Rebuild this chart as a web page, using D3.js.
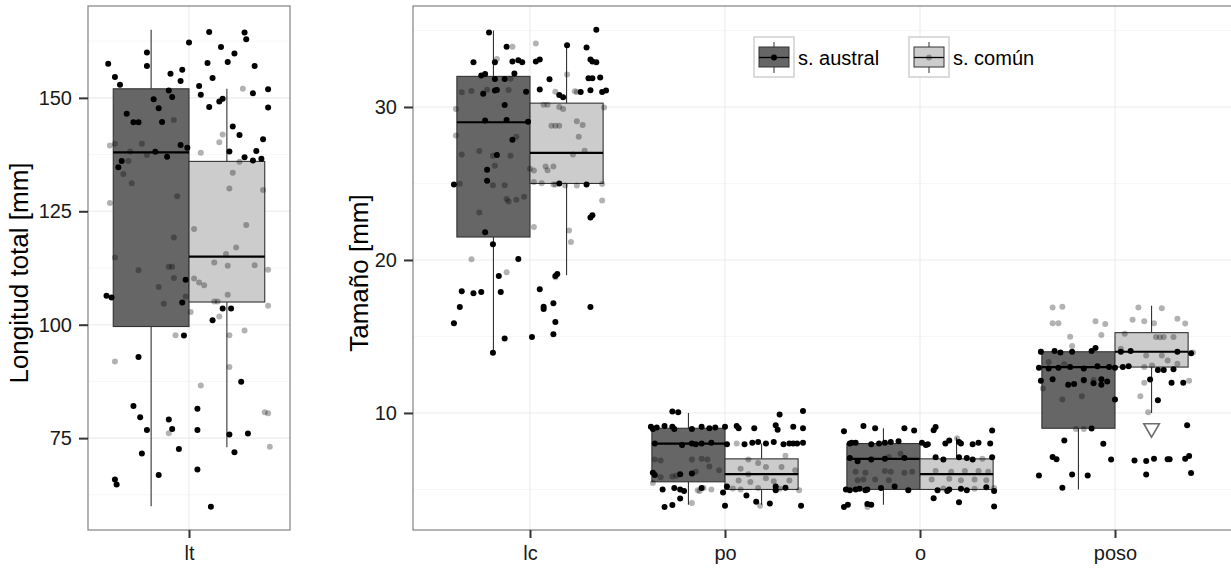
<!DOCTYPE html>
<html><head><meta charset="utf-8">
<script src="https://cdn.jsdelivr.net/npm/d3@7/dist/d3.min.js"></script>
<style>
body{margin:0;background:#fff}
text{font-family:"Liberation Sans",Arial,Helvetica,sans-serif}
</style>
</head><body>
<svg id="chart" width="1231" height="570"></svg>
<script>
// ---------------- data ----------------
const groups = ["s. austral", "s. común"];
const catsLeft = ["lt"];
const catsRight = ["lc", "po", "o", "poso"];
const ticksLeft = [75, 100, 125, 150];
const minorLeft = [62.5, 87.5, 112.5, 137.5, 162.5];
const ticksRight = [10, 20, 30];
const minorRight = [5, 15, 25, 35];
const yTitleLeft = "Longitud total [mm]";
const yTitleRight = "Tamaño [mm]";

// box statistics: [lower whisker, Q1, median, Q3, upper whisker]
const statsAustral = {lt: [60, 99.6, 138, 152, 165], lc: [14, 21.5, 29, 32, 35], po: [4, 5.5, 8, 9, 10], o: [4, 5, 7, 8, 9], poso: [5, 9, 13, 14, 14]};
const statsComun   = {lt: [73, 105, 115, 136, 152], lc: [19, 25, 27, 30.25, 34], po: [4, 5, 6, 7, 8], o: [5, 5, 6, 7, 8.4], poso: [10, 13, 14, 15.25, 17]};
const outliersComun = {poso: [9]};

// jittered observations: [jitter offset (category units), value]
const ltAustralPts = [[-0.48,157.5],[-0.44,154.6],[-0.41,152.9],[-0.25,160],[-0.25,157],[0.00,162.2],[-0.11,155.3],[-0.04,156.2],[-0.05,153.7],[-0.12,151.6],[-0.10,150.2],[-0.21,149.7],[-0.18,147.7],[-0.37,146.5],[-0.33,144.6],[-0.30,144.6],[-0.16,144.7],[-0.05,139.6],[-0.01,139],[-0.20,138.1],[-0.13,137],[-0.40,136.1],[-0.42,134.7],
[0.12,164.5],[0.33,164.4],[0.34,162.9],[0.19,161.2],[0.27,159.8],[0.23,157.9],[0.11,157.7],[0.39,157],[0.14,154.4],[0.06,152.6],[0.07,150.7],[0.47,151.9],[0.38,151],[0.47,147.9],[0.20,149.8],[0.18,149.2],[0.12,148],[0.26,143.7],[0.30,141.8],[0.44,140.9],[0.24,138.2],[0.40,138.3],[0.33,136.9],[0.38,136.2],[0.43,136.6],
[-0.02,109.9],[-0.49,106.4],[-0.46,106],[-0.04,104.9],[-0.03,97.6],[0.14,101],[0.20,103.6],[0.25,103.6],[-0.30,92.9],[0.31,87.4],[-0.33,82.1],[-0.29,79.6],[0.05,81.5],[-0.12,79.1],[-0.10,77],[-0.25,76.8],[0.05,76.8],[0.24,75.8],[0.35,76],[-0.28,71.6],[-0.06,72.6],[0.27,71.9],[0.05,68.1],[-0.18,66.9],[-0.44,65.9],[-0.43,64.8],[0.13,59.9]];
const ltComunPts = [[-0.47,139.5],[-0.44,139.9],[-0.28,139.9],[-0.25,137.4],[-0.35,138.2],[-0.36,136.1],[-0.39,133.2],[-0.34,131.2],[-0.09,145.1],[-0.07,128.3],[-0.47,126.8],[-0.44,114.8],[-0.30,112],[-0.09,119.2],[-0.12,112.8],[-0.10,112.8],[-0.09,110.3],[-0.18,108.3],[0.32,152],[0.20,141.9],[0.18,140.2],[0.07,137.9],[0.30,135.9],[0.26,133.5],[0.24,130],[0.44,129.7],[0.34,122],[0.03,121.1],[0.28,117],[0.22,115.6],[0.15,113.7],[0.23,113],[0.39,113.1],[0.47,112.1],[0.03,110.2],[0.06,109.3],[0.09,108.7],[0.23,106.6],[-0.02,106.2],[0.15,105.1],[0.17,105.1],[0.01,102.8],[0.18,101.8],[0.47,104.2],[-0.08,97.7],[0.24,97.7],[0.33,98.7],[-0.44,91.9],[0.24,90.7],[0.07,86.6],[0.45,80.7],[0.47,80.5],[-0.12,76.1],[0.48,73.1],[-0.15,104.6]];

const lcAustralPts = [[-0.21,34.87],[-0.12,33.93],[-0.29,32.92],[-0.18,32.92],[-0.09,32.97],[-0.06,33.05],[-0.04,32.92],[-0.25,32.05],[-0.23,32.16],[-0.18,31.83],[-0.13,31.83],[-0.08,32.18],[-0.24,30.87],[-0.18,31.07],[-0.17,31.11],[-0.02,31],[-0.13,30.13],[-0.23,29.12],[-0.12,29.15],[-0.01,29.04],[-0.09,27.86],[-0.17,26.86],[-0.22,25.89],[-0.22,25.17],[-0.39,24.93],[-0.23,21.81],[-0.19,21.03],[-0.06,20.07],[-0.16,18.95],[-0.35,17.95],[-0.29,17.82],[-0.25,17.9],[-0.15,17.9],[-0.36,16.92],[-0.39,15.87],[-0.13,14.87],[0.01,14.96],[-0.19,13.93],
[0.34,35.04],[0.19,34.03],[0.29,33.88],[0.03,32.97],[0.05,33.1],[0.31,33.1],[0.32,32.97],[0.34,32.92],[0.10,31.81],[0.30,31.87],[0.32,31.87],[0.36,31.92],[0.05,31.15],[0.26,30.98],[0.31,31.09],[0.37,30.98],[0.39,31.07],[0.15,30.79],[0.17,30.63],[0.15,25],[0.29,24.93],[0.32,22.93],[0.31,22.77],[0.14,19.08],[0.13,18.95],[0.05,18.08],[0.07,16.94],[0.07,16.79],[0.12,17.17],[0.31,16.92],[0.13,15.94],[0.12,15.15]];
const lcComunPts = [[-0.09,33.93],[0.03,34.15],[-0.17,33.14],[-0.10,31.85],[-0.35,30.96],[-0.30,31.05],[-0.22,31.13],[-0.11,31.11],[-0.38,29.87],[-0.38,28.14],[-0.07,28.05],[-0.35,26.9],[-0.26,27.12],[-0.19,26.81],[-0.10,26.81],[-0.18,26.16],[-0.36,24.98],[-0.19,24.89],[-0.13,24.89],[-0.12,23.99],[-0.11,23.82],[-0.07,23.93],[-0.03,24.13],[-0.26,23.1],[-0.30,20.05],[-0.12,19.2],
[0.00,25.96],[0.02,25.85],[0.08,26.11],[0.09,25.87],[0.12,26.11],[0.02,25.09],[0.06,25.02],[0.12,24.93],[0.13,24.93],[0.18,24.87],[0.24,24.87],[0.37,24.96],[0.37,23.88],[0.02,22.16],[0.20,21.92],[0.21,21.18],[0.13,18.87],[0.07,30.15],[0.09,30.15],[0.15,30],[0.17,29.87],[0.11,28.78],[0.13,28.78],[0.15,28.78],[0.24,29.06],[0.27,28.82],[0.25,28.05],[0.22,26.9],[0.28,27.14],[0.13,31],[0.23,31.02],[0.24,30.98],[0.19,32.12],[0.38,29.97]];

const poAustralPts = [[-0.27,10.09],[-0.24,10.05],[0.28,9.9],[0.40,10.13],
[-0.38,9.1],[-0.37,8.95],[-0.35,9.05],[-0.31,9.15],[-0.27,9.1],[-0.26,8.95],[-0.17,8.95],[-0.12,9.1],[-0.08,9.0],[-0.05,9.05],[0.00,9.1],
[0.06,9.15],[0.07,9.0],[0.15,9.0],[0.26,9.2],[0.27,8.9],[0.35,9.1],[0.40,9.0],
[-0.36,8.0],[-0.22,7.9],[-0.17,8.0],[-0.15,7.95],[-0.12,8.0],[-0.07,8.05],[0.01,7.95],
[0.10,7.95],[0.14,8.05],[0.17,8.1],[0.21,8.0],[0.25,8.1],[0.30,7.95],[0.33,8.0],[0.35,8.0],[0.37,8.0],[0.40,8.05],
[-0.37,6.1],[-0.36,5.95],[-0.23,6.0],[-0.17,6.05],
[-0.32,5.0],[-0.26,5.1],[-0.23,5.0],[-0.21,4.9],[-0.12,5.1],[-0.01,4.8],[0.01,5.2],
[-0.23,4.41],[-0.31,3.85],[-0.27,3.98],[0.00,3.94],[0.11,4.61],[0.16,4.2],[0.23,4.09],[0.26,5.2],[0.26,4.94],[0.31,5.11],[0.39,3.94]];
const poComunPts = [[0.06,8.0],[0.12,6.95],[0.17,6.73],[0.31,7.21],[0.08,6.36],[0.12,5.99],[0.21,6.46],[0.29,6.46],[0.36,6.25],[0.07,5.59],[0.13,5.48],[0.21,5.74],[0.25,5.53],[0.33,5.59],[0.04,5.07],[0.08,5.0],[0.17,5.1],[0.28,5.05],[0.38,4.95],[0.18,3.94],[-0.17,4.11],[-0.36,6.95],[-0.33,6.9],[-0.17,6.95],[-0.12,7.0],[-0.09,6.95],[-0.33,5.8],[-0.27,5.85],[-0.25,5.9],[-0.15,6.15],[-0.08,6.5],[-0.03,6.25],[-0.37,5.42],[-0.11,5.1],[-0.07,5.0],[-0.14,4.94],[-0.13,4.9]];

const oAustralPts = [[-0.39,8.8],[-0.29,9.15],[-0.23,9.0],[-0.08,9.0],[-0.03,8.85],[0.07,8.87],[0.08,9.08],[0.37,8.85],
[-0.36,8.0],[-0.35,8.05],[-0.33,8.05],[-0.25,7.95],[-0.21,8.0],[-0.18,8.05],[-0.15,8.1],[-0.11,8.15],[0.01,8.05],[0.03,7.9],[0.04,7.95],
[0.13,8.0],[0.15,8.2],[0.20,8.1],[0.21,8.0],[0.27,7.95],[0.30,8.05],[0.36,8.0],
[-0.36,7.05],[-0.32,6.85],[-0.25,6.95],[-0.18,7.0],[-0.08,7.05],[0.08,7.1],[0.12,6.95],[0.20,7.1],[0.24,7.05],[0.27,6.95],[0.37,7.1],
[-0.38,5.0],[-0.36,4.95],[-0.33,5.0],[-0.31,5.05],[-0.28,4.95],[-0.27,5.0],[-0.20,5.1],[-0.13,5.2],[-0.06,4.95],
[0.09,4.95],[0.14,4.9],[0.15,5.0],[0.21,5.05],[0.24,4.95],[0.34,5.15],[0.38,4.9],
[-0.39,3.85],[-0.37,4.0],[-0.27,4.05],[-0.25,4.0],[0.07,4.43],[0.20,4.17],[0.38,3.89]];
const oComunPts = [[-0.27,3.85],[-0.33,6.15],[-0.28,6.1],[-0.18,6.2],[-0.15,6.15],[-0.08,6.1],[-0.04,6.15],[-0.32,5.6],[-0.29,5.65],[-0.23,5.65],[-0.16,5.6],[-0.10,7.34],[-0.16,7.12],[0.06,5.65],[0.15,5.7],[0.21,5.6],[0.28,5.65],[0.34,5.6],[0.08,6.2],[0.16,6.15],[0.23,6.2],[0.30,6.2],[0.35,6.15],[0.38,5.1],[0.32,7.0],[0.12,5.07],[0.28,5.05],[0.19,8.35]];

const posoAustralPts = [[-0.38,14.0],[-0.31,14.05],[-0.28,13.95],[-0.22,14.0],[-0.12,14.05],[-0.10,14.25],[0.03,14.0],[0.08,14.05],[0.32,14.0],[0.39,13.9],
[-0.39,12.95],[-0.34,12.9],[-0.29,12.95],[-0.23,13.0],[-0.16,12.9],[-0.09,13.05],[-0.03,13.0],[0.00,12.95],[0.04,13.0],[0.07,13.05],
[-0.38,12.1],[-0.32,12.2],[-0.24,11.85],[-0.21,11.9],[-0.16,12.15],[-0.11,11.95],[-0.07,12.2],[-0.04,12.05],[-0.07,11.85],
[0.00,10.88],[0.22,10.83],[0.18,12.19],[0.22,12.8],[0.25,12.8],[0.30,12.85],[0.29,11.97],[0.35,11.97],[-0.12,8.98],[-0.26,8.2],[-0.06,7.99],[0.37,9.2],
[-0.32,7.12],[-0.30,6.97],[-0.02,6.95],[0.10,6.9],[0.16,6.86],[0.20,7.01],[0.27,6.97],[0.28,6.97],[0.36,7.0],[0.38,7.18],
[-0.39,5.92],[-0.22,5.97],[-0.14,5.92],[0.16,5.97],[0.39,6.07],[-0.27,5.11]];
const posoComunPts = [[-0.32,16.9],[-0.27,16.95],[-0.32,15.86],[-0.29,15.86],[-0.10,16.0],[-0.05,15.82],[-0.23,14.98],[-0.07,15.09],[-0.22,14.38],[0.12,16.9],[0.24,16.85],[0.09,16.1],[0.15,16.0],[0.20,15.86],[0.32,16.15],[0.36,15.84],[0.05,15.18],[0.21,14.97],[0.23,14.95],[0.25,14.97],[0.30,14.97],[0.03,14.2],[0.16,13.76],[0.24,13.76],[0.27,13.43],[0.32,13.21],[0.40,13.95],[0.15,13.0],[0.19,13.1],[0.15,11.97],[0.13,11.1],[0.17,10.05],[0.38,12.1],[-0.20,8.95],[-0.16,8.95],[-0.37,11.6],[-0.27,10.88],[-0.17,11.1],[-0.11,12.15],[-0.34,13.33],[-0.26,13.18],[-0.16,12.1],[-0.38,14.0]];

const pointsAustral = {lt: ltAustralPts, lc: lcAustralPts, po: poAustralPts, o: oAustralPts, poso: posoAustralPts};
const pointsComun = {lt: ltComunPts, lc: lcComunPts, po: poComunPts, o: oComunPts, poso: posoComunPts};

// ---------------- styles ----------------
const fills = ["#666666", "#cccccc"];
const FONT_TICK = 20, FONT_TITLE = 26, FONT_LEG = 20, R = 3;

const svg = d3.select("#chart");

function panel(opt) {
  const g = svg.append("g");
  const x = d3.scalePoint().domain(opt.cats).range([opt.x0, opt.x1]).padding(0.6);
  const y = d3.scaleLinear().domain(opt.yDomain).range([opt.y1, opt.y0]);
  const step = x.step();
  const bw = opt.boxW * step;

  const cid = "clip" + opt.id;
  svg.append("clipPath").attr("id", cid).append("rect")
    .attr("x", opt.x0).attr("y", opt.y0).attr("width", opt.x1 - opt.x0).attr("height", opt.y1 - opt.y0);
  const inner = g.append("g").attr("clip-path", `url(#${cid})`);

  // grid
  inner.selectAll(".gmin").data(opt.minor).join("line")
    .attr("x1", opt.x0).attr("x2", opt.x1).attr("y1", d => y(d)).attr("y2", d => y(d))
    .attr("stroke", "#f7f7f7").attr("stroke-width", 1);
  inner.selectAll(".gmaj").data(opt.ticks).join("line")
    .attr("x1", opt.x0).attr("x2", opt.x1).attr("y1", d => y(d)).attr("y2", d => y(d))
    .attr("stroke", "#ebebeb").attr("stroke-width", 1.1);
  inner.selectAll(".gv").data(opt.cats).join("line")
    .attr("x1", d => x(d)).attr("x2", d => x(d)).attr("y1", opt.y0).attr("y2", opt.y1)
    .attr("stroke", "#ebebeb").attr("stroke-width", 1.1);

  // boxes
  opt.cats.forEach(c => {
    [statsAustral[c], statsComun[c]].forEach((s, gi) => {
      const left = gi === 0 ? x(c) - bw : x(c);
      const cx = left + bw / 2;
      inner.append("line").attr("x1", cx).attr("x2", cx).attr("y1", y(s[0])).attr("y2", y(s[1]))
        .attr("stroke", "#333").attr("stroke-width", 1.1);
      inner.append("line").attr("x1", cx).attr("x2", cx).attr("y1", y(s[3])).attr("y2", y(s[4]))
        .attr("stroke", "#333").attr("stroke-width", 1.1);
      inner.append("rect").attr("x", left).attr("width", bw)
        .attr("y", y(s[3])).attr("height", y(s[1]) - y(s[3]))
        .attr("fill", fills[gi]).attr("stroke", "#333").attr("stroke-width", 1.1);
      inner.append("line").attr("x1", left).attr("x2", left + bw).attr("y1", y(s[2])).attr("y2", y(s[2]))
        .attr("stroke", "#000").attr("stroke-width", 2.2);
      if (gi === 1 && outliersComun[c]) {
        inner.selectAll(null).data(outliersComun[c]).join("path")
          .attr("d", d3.symbol(d3.symbolTriangle, 105)())
          .attr("transform", d => `translate(${cx},${y(d)}) rotate(180)`)
          .attr("fill", "none").attr("stroke", "#6e6e6e").attr("stroke-width", 1.6);
      }
    });
  });

  // points
  opt.cats.forEach(c => {
    inner.selectAll(null).data(pointsComun[c]).join("circle")
      .attr("cx", d => x(c) + d[0] * step).attr("cy", d => y(d[1])).attr("r", R)
      .attr("fill", "#000").attr("fill-opacity", 0.3);
    inner.selectAll(null).data(pointsAustral[c]).join("circle")
      .attr("cx", d => x(c) + d[0] * step).attr("cy", d => y(d[1])).attr("r", R)
      .attr("fill", "#000");
  });

  // border
  g.append("rect").attr("x", opt.x0).attr("y", opt.y0).attr("width", opt.x1 - opt.x0).attr("height", opt.y1 - opt.y0)
    .attr("fill", "none").attr("stroke", "#8c8c8c").attr("stroke-width", 1.3);

  // axes
  const ay = g.append("g").attr("transform", `translate(${opt.x0},0)`)
    .call(d3.axisLeft(y).tickValues(opt.ticks).tickSize(9).tickPadding(7));
  const ax = g.append("g").attr("transform", `translate(0,${opt.y1})`)
    .call(d3.axisBottom(x).tickSize(8).tickPadding(8));
  [ax, ay].forEach(a => {
    a.select(".domain").remove();
    a.selectAll(".tick line").attr("stroke", "#333").attr("stroke-width", 2);
    a.selectAll(".tick text").attr("font-size", FONT_TICK).attr("fill", "#1a1a1a")
      .attr("font-family", '"Liberation Sans",Arial,sans-serif');
  });

  // y title
  g.append("text").attr("transform", `translate(${opt.titleX},${opt.titleY}) rotate(-90)`)
    .attr("text-anchor", "middle").attr("font-size", FONT_TITLE).attr("fill", "#000")
    .text(opt.title);
  return {x, y};
}

panel({id: "L", cats: catsLeft, x0: 88, x1: 290, y0: 6, y1: 530, yDomain: [54.75, 170.25],
  ticks: ticksLeft, minor: minorLeft, boxW: 0.45, title: yTitleLeft, titleX: 28, titleY: 273});
panel({id: "R", cats: catsRight, x0: 413, x1: 1232, y0: 6, y1: 530, yDomain: [2.35, 36.6],
  ticks: ticksRight, minor: minorRight, boxW: 0.375, title: yTitleRight, titleX: 368, titleY: 273});

// legend
const legX = [754, 909];
const leg = svg.append("g");
groups.forEach((name, i) => {
  const k = leg.append("g").attr("transform", `translate(${legX[i]},37)`);
  k.append("rect").attr("x", 0).attr("y", 0).attr("width", 40).attr("height", 40)
    .attr("fill", "#fff").attr("stroke", "#cfcfcf").attr("stroke-width", 1.5);
  k.append("line").attr("x1", 20).attr("x2", 20).attr("y1", 5).attr("y2", 36).attr("stroke", "#333").attr("stroke-width", 1);
  k.append("rect").attr("x", 5).attr("y", 10).attr("width", 30).attr("height", 20)
    .attr("fill", fills[i]).attr("stroke", "#333").attr("stroke-width", 1);
  k.append("line").attr("x1", 5).attr("x2", 35).attr("y1", 20.5).attr("y2", 20.5).attr("stroke", "#000").attr("stroke-width", 1.3);
  k.append("circle").attr("cx", 20).attr("cy", 20.5).attr("r", R).attr("fill", "#000").attr("fill-opacity", i === 0 ? 1 : 0.3);
  k.append("text").attr("x", 44).attr("y", 27.5).attr("font-size", FONT_LEG).attr("fill", "#000").text(name);
});
</script>
</body></html>
